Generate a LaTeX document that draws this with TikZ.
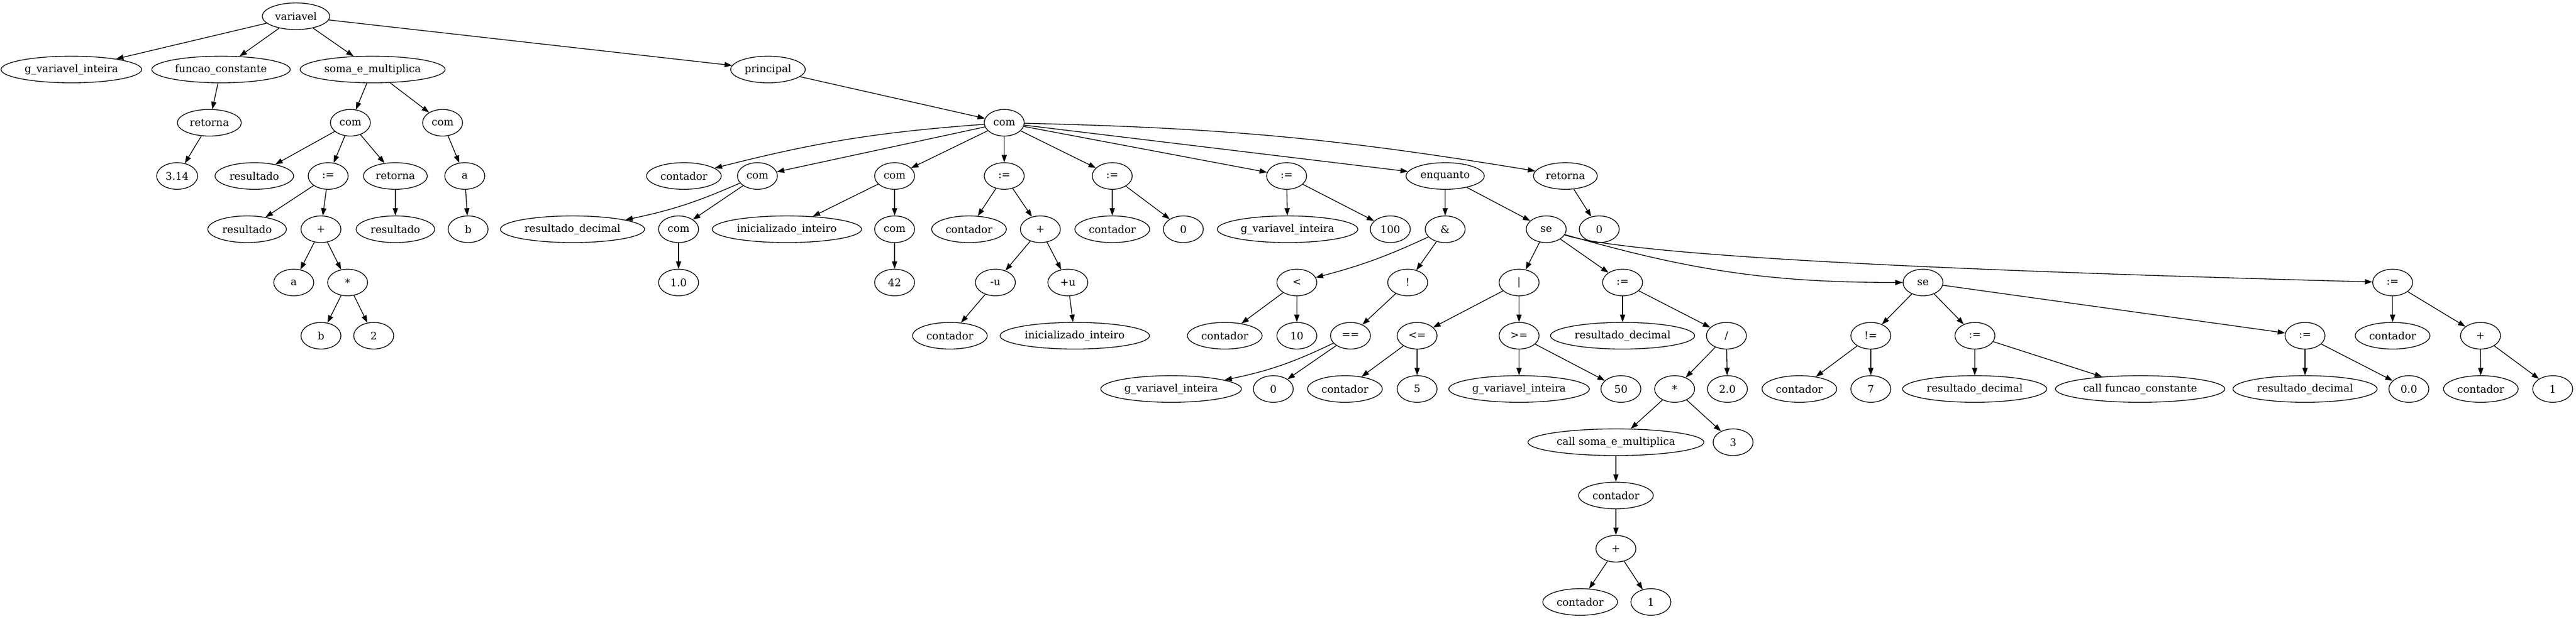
\documentclass[tikz,border=0pt]{standalone}
\usepackage{fontspec}
\setmainfont{DejaVu Serif}
\usetikzlibrary{shapes.geometric,arrows.meta}
\tikzset{
  ast/.style={draw, ellipse, line width=1pt, inner xsep=4pt, inner ysep=2pt, minimum width=54pt, minimum height=36pt, font=\fontsize{14}{17}\selectfont},
  astedge/.style={line width=1pt, -{Triangle[length=10pt,width=7pt]}}
}
\begin{document}
\begin{tikzpicture}[x=0.75pt, y=72pt]%
\useasboundingbox (0,0.3052) rectangle (4639,-11.3094);%
\node[ast] (v0) at (533, 0) {variavel};%
\node[ast] (gvi1) at (128.5, -1) {g\_variavel\_inteira};%
\node[ast] (fc) at (398, -1) {funcao\_constante};%
\node[ast] (sm) at (671, -1) {soma\_e\_multiplica};%
\node[ast] (pr) at (1383, -1) {principal};%
\node[ast] (ret1) at (377, -2) {retorna};%
\node[ast] (comA) at (631, -2) {com};%
\node[ast] (comB) at (797, -2) {com};%
\node[ast] (comM) at (1808.5, -2) {com};%
\node[ast] (n314) at (319, -3) {3.14};%
\node[ast] (res1) at (458, -3) {resultado};%
\node[ast] (as1) at (591, -3) {:=};%
\node[ast] (ret2) at (712, -3) {retorna};%
\node[ast] (a1) at (837, -3) {a};%
\node[ast] (cont1) at (1231.6, -3) {contador};%
\node[ast] (comC) at (1364, -3) {com};%
\node[ast] (comD) at (1611, -3) {com};%
\node[ast] (as2) at (1808.5, -3) {:=};%
\node[ast] (as3) at (2003, -3) {:=};%
\node[ast] (as4) at (2317, -3) {:=};%
\node[ast] (enq) at (2602.5, -3) {enquanto};%
\node[ast] (ret3) at (2819, -3) {retorna};%
\node[ast] (res2) at (445, -4) {resultado};%
\node[ast] (plus1) at (578, -4) {+};%
\node[ast] (res3) at (712, -4) {resultado};%
\node[ast] (b1) at (843, -4) {b};%
\node[ast] (rd1) at (1031, -4) {resultado\_decimal};%
\node[ast] (comE) at (1222, -4) {com};%
\node[ast] (ii1) at (1417, -4) {inicializado\_inteiro};%
\node[ast] (comF) at (1611, -4) {com};%
\node[ast] (cont2) at (1745, -4) {contador};%
\node[ast] (plus2) at (1873.5, -4) {+};%
\node[ast] (cont3) at (2003, -4) {contador};%
\node[ast] (zero1) at (2131, -4) {0};%
\node[ast] (gvi2) at (2318.6, -4) {g\_variavel\_inteira};%
\node[ast] (n100) at (2503.7, -4) {100};%
\node[ast] (land) at (2602.5, -4) {\&};%
\node[ast] (se1) at (2784.5, -4) {se};%
\node[ast] (zero2) at (2880, -4) {0};%
\node[ast] (a2) at (529, -5) {a};%
\node[ast] (mul1) at (626, -5) {*};%
\node[ast] (n10) at (1222, -5) {1.0};%
\node[ast] (n42) at (1611, -5) {42};%
\node[ast] (negu) at (1792.5, -5) {-u};%
\node[ast] (posu) at (1923, -5) {+u};%
\node[ast] (lt) at (2335.4, -5) {<};%
\node[ast] (lnot) at (2535, -5) {!};%
\node[ast] (lor) at (2735.6, -5) {|};%
\node[ast] (as5) at (2922, -5) {:=};%
\node[ast] (se2) at (3463, -5) {se};%
\node[ast] (as6) at (4308.7, -5) {:=};%
\node[ast] (b2) at (578, -6) {b};%
\node[ast] (two) at (673, -6) {2};%
\node[ast] (cont4) at (1710.6, -6) {contador};%
\node[ast] (ii2) at (1935.5, -6) {inicializado\_inteiro};%
\node[ast] (cont5) at (2205.6, -6) {contador};%
\node[ast] (ten) at (2335.4, -6) {10};%
\node[ast] (eq) at (2432, -6) {==};%
\node[ast] (le) at (2552, -6) {<=};%
\node[ast] (ge) at (2735.6, -6) {>=};%
\node[ast] (rd2) at (2922, -6) {resultado\_decimal};%
\node[ast] (div) at (3109, -6) {/};%
\node[ast] (ne) at (3369, -6) {!=};%
\node[ast] (as7) at (3556.5, -6) {:=};%
\node[ast] (as8) at (4151, -6) {:=};%
\node[ast] (cont6) at (4308.7, -6) {contador};%
\node[ast] (plus3) at (4467, -6) {+};%
\node[ast] (gvi3) at (2109, -7) {g\_variavel\_inteira};%
\node[ast] (zero3) at (2293, -7) {0};%
\node[ast] (cont7) at (2422, -7) {contador};%
\node[ast] (five) at (2552, -7) {5};%
\node[ast] (gvi4) at (2735.6, -7) {g\_variavel\_inteira};%
\node[ast] (fifty) at (2919, -7) {50};%
\node[ast] (mul2) at (3015.7, -7) {*};%
\node[ast] (twoz) at (3110.8, -7) {2.0};%
\node[ast] (cont8) at (3240.4, -7) {contador};%
\node[ast] (seven) at (3369, -7) {7};%
\node[ast] (rd3) at (3556, -7) {resultado\_decimal};%
\node[ast] (cfc) at (3854, -7) {call funcao\_constante};%
\node[ast] (rd4) at (4151, -7) {resultado\_decimal};%
\node[ast] (zz) at (4338, -7) {0.0};%
\node[ast] (cont9) at (4467.6, -7) {contador};%
\node[ast] (one1) at (4597, -7) {1};%
\node[ast] (csm) at (2910, -8) {call soma\_e\_multiplica};%
\node[ast] (three) at (3121, -8) {3};%
\node[ast] (cont10) at (2910, -9) {contador};%
\node[ast] (plus4) at (2910, -10) {+};%
\node[ast] (cont11) at (2845.6, -11) {contador};%
\node[ast] (one2) at (2973, -11) {1};%
\draw[astedge] (v0) -- (gvi1);%
\draw[astedge] (v0) -- (fc);%
\draw[astedge] (v0) -- (sm);%
\draw[astedge] (v0) -- (pr);%
\draw[astedge] (fc) -- (ret1);%
\draw[astedge] (ret1) -- (n314);%
\draw[astedge] (sm) -- (comA);%
\draw[astedge] (sm) -- (comB);%
\draw[astedge] (comA) -- (res1);%
\draw[astedge] (comA) -- (as1);%
\draw[astedge] (comA) -- (ret2);%
\draw[astedge] (as1) -- (res2);%
\draw[astedge] (as1) -- (plus1);%
\draw[astedge] (plus1) -- (a2);%
\draw[astedge] (plus1) -- (mul1);%
\draw[astedge] (mul1) -- (b2);%
\draw[astedge] (mul1) -- (two);%
\draw[astedge] (ret2) -- (res3);%
\draw[astedge] (comB) -- (a1);%
\draw[astedge] (a1) -- (b1);%
\draw[astedge] (pr) -- (comM);%
\draw[astedge] (comM) to[bend right=5] (cont1);%
\draw[astedge] (comM) -- (comC);%
\draw[astedge] (comM) -- (comD);%
\draw[astedge] (comM) -- (as2);%
\draw[astedge] (comM) -- (as3);%
\draw[astedge] (comM) -- (as4);%
\draw[astedge] (comM) -- (enq);%
\draw[astedge] (comM) to[bend left=4] (ret3);%
\draw[astedge] (comC) to[bend left=6] (rd1);%
\draw[astedge] (comC) -- (comE);%
\draw[astedge] (comE) -- (n10);%
\draw[astedge] (comD) -- (ii1);%
\draw[astedge] (comD) -- (comF);%
\draw[astedge] (comF) -- (n42);%
\draw[astedge] (as2) -- (cont2);%
\draw[astedge] (as2) -- (plus2);%
\draw[astedge] (plus2) -- (negu);%
\draw[astedge] (plus2) -- (posu);%
\draw[astedge] (negu) -- (cont4);%
\draw[astedge] (posu) -- (ii2);%
\draw[astedge] (as3) -- (cont3);%
\draw[astedge] (as3) -- (zero1);%
\draw[astedge] (as4) -- (gvi2);%
\draw[astedge] (as4) -- (n100);%
\draw[astedge] (enq) -- (land);%
\draw[astedge] (enq) -- (se1);%
\draw[astedge] (land) to[bend left=5] (lt);%
\draw[astedge] (land) -- (lnot);%
\draw[astedge] (lt) -- (cont5);%
\draw[astedge] (lt) -- (ten);%
\draw[astedge] (lnot) -- (eq);%
\draw[astedge] (eq) to[bend left=7] (gvi3);%
\draw[astedge] (eq) -- (zero3);%
\draw[astedge] (se1) -- (lor);%
\draw[astedge] (se1) -- (as5);%
\draw[astedge] (se1) .. controls (3045,-4.778) and (3187,-5) .. (se2);%
\draw[astedge] (se1) .. controls (2950,-4.539) and (3600,-4.799) .. (as6);%
\draw[astedge] (lor) -- (le);%
\draw[astedge] (lor) -- (ge);%
\draw[astedge] (le) -- (cont7);%
\draw[astedge] (le) -- (five);%
\draw[astedge] (ge) -- (gvi4);%
\draw[astedge] (ge) -- (fifty);%
\draw[astedge] (as5) -- (rd2);%
\draw[astedge] (as5) -- (div);%
\draw[astedge] (div) -- (mul2);%
\draw[astedge] (div) -- (twoz);%
\draw[astedge] (mul2) -- (csm);%
\draw[astedge] (mul2) -- (three);%
\draw[astedge] (csm) -- (cont10);%
\draw[astedge] (cont10) -- (plus4);%
\draw[astedge] (plus4) -- (cont11);%
\draw[astedge] (plus4) -- (one2);%
\draw[astedge] (se2) -- (ne);%
\draw[astedge] (se2) -- (as7);%
\draw[astedge] (se2) -- (as8);%
\draw[astedge] (ne) -- (cont8);%
\draw[astedge] (ne) -- (seven);%
\draw[astedge] (as7) -- (rd3);%
\draw[astedge] (as7) -- (cfc);%
\draw[astedge] (as8) -- (rd4);%
\draw[astedge] (as8) -- (zz);%
\draw[astedge] (as6) -- (cont6);%
\draw[astedge] (as6) -- (plus3);%
\draw[astedge] (plus3) -- (cont9);%
\draw[astedge] (plus3) -- (one1);%
\draw[astedge] (ret3) -- (zero2);%
\end{tikzpicture}
\end{document}
